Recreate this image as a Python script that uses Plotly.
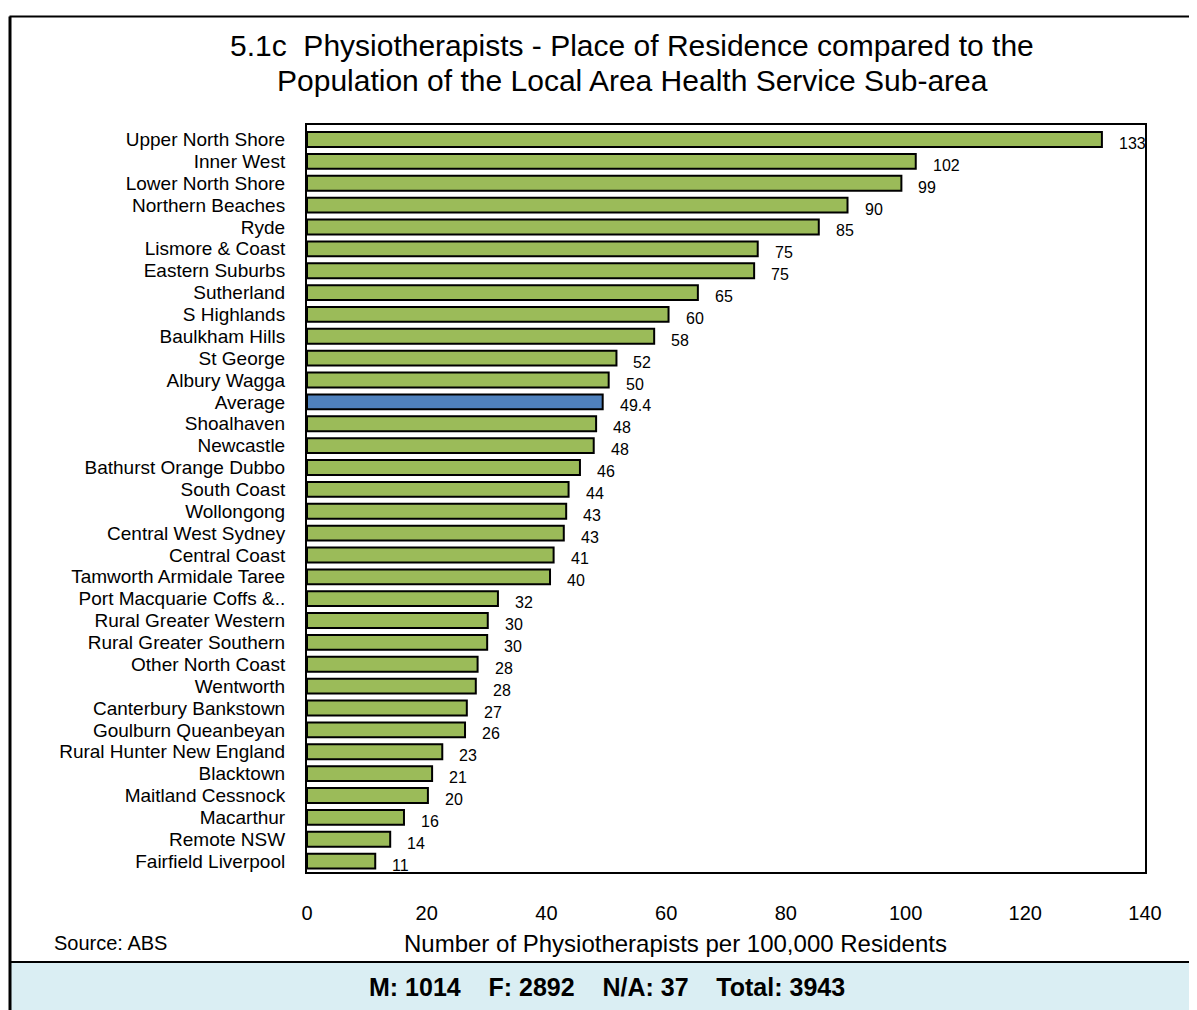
import plotly.graph_objects as go

categories = [
    "Upper North Shore", "Inner West", "Lower North Shore", "Northern Beaches", "Ryde",
    "Lismore & Coast", "Eastern Suburbs", "Sutherland", "S Highlands", "Baulkham Hills",
    "St George", "Albury Wagga", "Average", "Shoalhaven", "Newcastle",
    "Bathurst Orange Dubbo", "South Coast", "Wollongong", "Central West Sydney", "Central Coast",
    "Tamworth Armidale Taree", "Port Macquarie Coffs &..", "Rural Greater Western",
    "Rural Greater Southern", "Other North Coast", "Wentworth", "Canterbury Bankstown",
    "Goulburn Queanbeyan", "Rural Hunter New England", "Blacktown", "Maitland Cessnock",
    "Macarthur", "Remote NSW", "Fairfield Liverpool",
]
values = [132.8, 101.7, 99.3, 90.3, 85.5, 75.3, 74.7, 65.3, 60.4, 58.0,
          51.7, 50.4, 49.4, 48.3, 47.9, 45.6, 43.7, 43.3, 42.9, 41.2,
          40.6, 31.9, 30.2, 30.1, 28.5, 28.2, 26.7, 26.4, 22.6, 20.9,
          20.2, 16.2, 13.9, 11.4]
value_labels = ["133", "102", "99", "90", "85", "75", "75", "65", "60", "58",
                "52", "50", "49.4", "48", "48", "46", "44", "43", "43", "41",
                "40", "32", "30", "30", "28", "28", "27", "26", "23", "21",
                "20", "16", "14", "11"]
x_ticks = [0, 20, 40, 60, 80, 100, 120, 140]

title_lines = ["5.1c  Physiotherapists - Place of Residence compared to the",
               "Population of the Local Area Health Service Sub-area"]
x_title = "Number of Physiotherapists per 100,000 Residents"
source_text = "Source: ABS"
GAP = "&nbsp;" * 4
footer_text = "M: 1014" + GAP + "F: 2892" + GAP + "N/A: 37" + GAP + "Total: 3943"

GREEN = "#9BBB59"
BLUE = "#4F81BD"
FONT = "Liberation Sans, Arial, sans-serif"

colors = [BLUE if c == "Average" else GREEN for c in categories]

# page has an 8px body margin; compensate so targets are page pixels
OFF = 8
W, H = 1197 - OFF, 1010 - OFF
L, T = 307 - OFF, 125 - OFF
PR, PB = 1145 - OFF, 872 - OFF  # plot right / bottom in figure px
R, B = W - PR, H - PB
PW = PR - L
PH = PB - T


def px_x(p):
    return (p - OFF - L) / PW


def px_y(p):
    return (PB - (p - OFF)) / PH


fig = go.Figure()
fig.add_trace(go.Bar(
    x=values, y=categories, orientation="h",
    marker=dict(color=colors, line=dict(color="black", width=2)),
    hoverinfo="x+y",
))

annotations = []
for c, v, t in zip(categories, values, value_labels):
    annotations.append(dict(
        x=v, y=c, xref="x", yref="y", text=t, showarrow=False,
        xanchor="left", yanchor="middle", xshift=15, yshift=-4,
        font=dict(family=FONT, size=16, color="black"),
    ))

annotations += [
    dict(x=px_x(632), y=px_y(45), xref="paper", yref="paper", text=title_lines[0],
         showarrow=False, xanchor="center", yanchor="middle",
         font=dict(family=FONT, size=30, color="black")),
    dict(x=px_x(632), y=px_y(81), xref="paper", yref="paper", text=title_lines[1],
         showarrow=False, xanchor="center", yanchor="middle",
         font=dict(family=FONT, size=30, color="black")),
    dict(x=px_x(675), y=px_y(943), xref="paper", yref="paper", text=x_title,
         showarrow=False, xanchor="center", yanchor="middle",
         font=dict(family=FONT, size=24, color="black")),
    dict(x=px_x(52), y=px_y(943), xref="paper", yref="paper", text=source_text,
         showarrow=False, xanchor="left", yanchor="middle",
         font=dict(family=FONT, size=20, color="black")),
    dict(x=px_x(607), y=px_y(987), xref="paper", yref="paper", text="<b>" + footer_text + "</b>",
         showarrow=False, xanchor="center", yanchor="middle",
         font=dict(family=FONT, size=25, color="black")),
]

shapes = [
    dict(type="rect", xref="paper", yref="paper",
         x0=px_x(10), x1=px_x(1210), y0=px_y(1020), y1=px_y(962),
         fillcolor="#DAEEF3", line=dict(width=0), layer="below"),
    dict(type="line", xref="paper", yref="paper",
         x0=px_x(10), x1=px_x(1210), y0=px_y(962), y1=px_y(962),
         line=dict(color="black", width=2)),
    dict(type="line", xref="paper", yref="paper",
         x0=px_x(9.5), x1=px_x(1210), y0=px_y(16.5), y1=px_y(16.5),
         line=dict(color="black", width=2)),
    dict(type="line", xref="paper", yref="paper",
         x0=px_x(10), x1=px_x(10), y0=px_y(16.5), y1=px_y(1020),
         line=dict(color="black", width=3)),
]

fig.update_layout(
    width=W, height=H,
    margin=dict(l=L, r=R, t=T, b=B, pad=0),
    paper_bgcolor="white", plot_bgcolor="white",
    showlegend=False,
    bargap=0.32,
    font=dict(family=FONT, color="black"),
    annotations=annotations,
    shapes=shapes,
    xaxis=dict(
        range=[0, 140], tickvals=x_ticks, showgrid=False, zeroline=False,
        showline=True, linecolor="black", linewidth=2, mirror=True,
        ticks="", ticklabelstandoff=22,
        tickfont=dict(family=FONT, size=20, color="black"),
        fixedrange=True,
    ),
    yaxis=dict(
        categoryorder="array", categoryarray=categories, autorange="reversed",
        tickmode="array", tickvals=categories, ticktext=categories,
        showgrid=False, zeroline=False,
        showline=True, linecolor="black", linewidth=2, mirror=True,
        ticks="", ticklabelstandoff=16,
        tickfont=dict(family=FONT, size=19, color="black"),
        fixedrange=True,
    ),
)

fig.write_html("out.html")
